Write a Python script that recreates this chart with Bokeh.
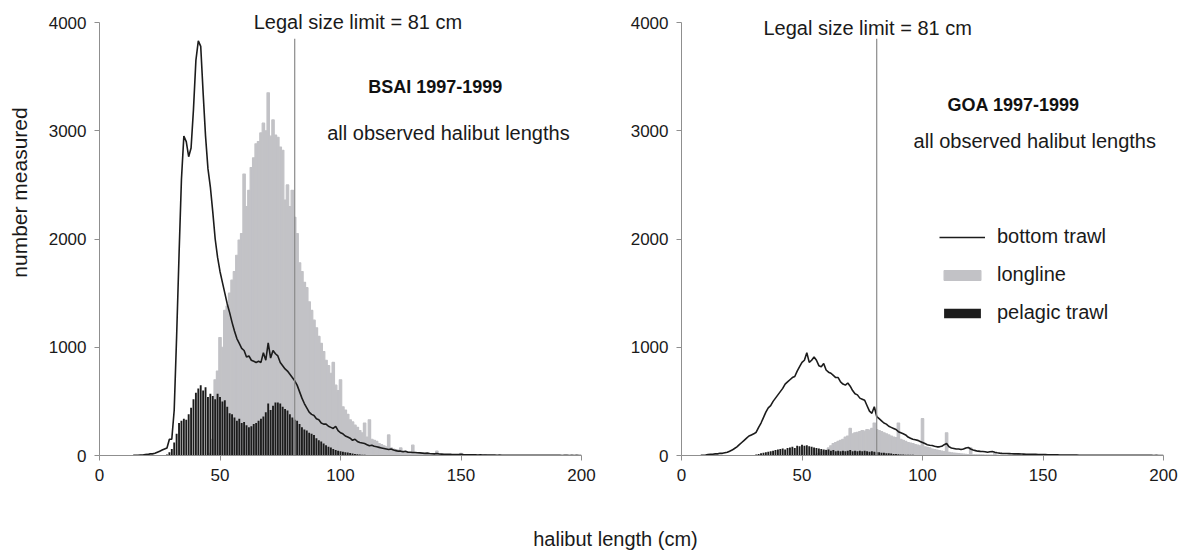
import math
from bokeh.plotting import figure
from bokeh.models import Label, Legend, LegendItem, Range1d
from bokeh.layouts import row, column
from bokeh.embed import file_html
from bokeh.resources import INLINE

# ---------------- data (counts per 1-cm length class) ----------------
LEGAL_LIMIT = 81
LEGAL_LINE_TOP = 3850

bsai_bottom_start = 14
bsai_bottom = [
    1,
    2, 3, 5, 5, 8, 10, 15, 15, 20, 30, 40, 50, 60, 70, 150,
    150, 420, 1100, 1850, 2550, 2950, 2900, 2760, 2840, 3200,
    3650, 3830, 3780, 3350, 2950, 2650, 2480, 2250, 2000, 1830,
    1700, 1600, 1500, 1400, 1320, 1230, 1150, 1080, 1035, 990,
    970, 910, 920, 880, 870, 860, 870, 860, 950, 880,
    1040, 900, 970, 940, 920, 860, 830, 800, 780, 750,
    720, 690, 650, 590, 530, 480, 440, 400, 380, 370,
    340, 330, 300, 290, 290, 270, 260, 250, 270, 230,
    210, 200, 180, 170, 160, 140, 150, 130, 120, 115,
    110, 100, 90, 95, 85, 80, 75, 70, 65, 60,
    55, 60, 50, 45, 40, 40, 35, 40, 30, 30,
    28, 28, 25, 24, 22, 20, 22, 18, 16, 15,
    18, 14, 13, 12, 11, 12, 10, 9, 9, 8,
    10, 8, 7, 7, 6, 7, 6, 5, 6, 5,
    5, 4, 5, 4, 4, 3, 4, 3, 3, 3,
    3, 2, 3, 2, 2, 2, 3, 2, 2, 1,
    2, 1, 2, 1, 1, 1, 2, 1, 1, 1,
    1, 1, 0, 1, 1, 0, 1, 0, 1, 0, 0,
]

bsai_longline_start = 46
bsai_longline = [
    20, 150, 700, 780,
    1090, 1000, 1340, 1380, 1500, 1620, 1700, 1850, 1990, 2050,
    2600, 2300, 2450, 2660, 2750, 2880, 2900, 2980, 3070, 3000,
    3350, 2950, 3100, 2960, 2940, 2850, 2820, 2360, 2500, 2300,
    2450, 2200, 2050, 1780, 1700, 1600, 1550, 1420, 1340, 1250,
    1180, 1100, 1035, 960, 880, 830, 760, 860, 650, 600,
    700, 450, 420, 380, 330, 310, 280, 260, 230, 210,
    300, 170, 330, 150, 140, 130, 110, 100, 90, 80,
    190, 70, 60, 55, 50, 70, 40, 35, 30, 25,
    95, 20, 18, 15, 14, 12, 10, 10, 8, 8,
    40, 6, 5, 5, 4, 4, 3, 3, 3, 2,
    20, 2, 2, 1, 1, 2, 1, 1, 1, 1,
    8,
]

bsai_pelagic_start = 28
bsai_pelagic = [
    10, 30,
    60, 120, 200, 300, 320, 340, 330, 380, 440, 520,
    580, 620, 650, 600, 630, 540, 570, 550, 520, 570,
    540, 500, 510, 450, 390, 380, 350, 320, 340, 300,
    310, 280, 260, 270, 290, 300, 320, 340, 360, 400,
    480, 420, 460, 490, 490, 480, 450, 430, 415, 380,
    350, 330, 320, 290, 260, 240, 230, 210, 200, 190,
    160, 140, 130, 110, 95, 80, 74, 60, 50, 45,
    40, 35, 30, 28, 22, 18, 15, 12, 10, 8,
    6, 5, 4, 3, 3, 2, 2, 1, 1, 1,
]

goa_bottom_start = 8
goa_bottom = [
    2, 3,
    5, 8, 10, 12, 15, 15, 20, 20, 25, 30,
    40, 50, 65, 80, 100, 120, 140, 160, 180, 190,
    200, 215, 260, 300, 350, 400, 440, 460, 500, 530,
    560, 590, 620, 660, 680, 700, 720, 730, 780, 820,
    860, 880, 950, 860, 880, 910, 880, 830, 820, 850,
    790, 770, 760, 740, 720, 720, 680, 660, 650, 670,
    640, 600, 570, 560, 530, 520, 510, 460, 410, 390,
    450, 360, 340, 320, 300, 290, 270, 260, 250, 240,
    220, 210, 200, 190, 170, 160, 150, 145, 140, 130,
    120, 110, 100, 95, 92, 85, 80, 80, 85, 100,
    110, 80, 70, 65, 60, 60, 55, 60, 70, 74,
    60, 50, 45, 40, 38, 37, 35, 30, 35, 37,
    30, 25, 22, 20, 19, 18, 17, 16, 15, 15,
    15, 14, 13, 12, 12, 11, 10, 10, 9, 9,
    8, 8, 7, 7, 6, 6, 6, 5, 5, 5,
    5, 4, 4, 4, 4, 3, 3, 3, 3, 3,
    3, 2, 2, 2, 2, 2, 2, 2, 2, 2,
    2, 1, 1, 1, 1, 1, 1, 1, 1, 1,
    1, 1, 1, 1, 1, 1, 0, 1, 0, 0, 0,
]

goa_longline_start = 56
goa_longline = [
    10, 20, 30, 40,
    50, 70, 90, 110, 120, 130, 140, 150, 170, 180,
    250, 200, 210, 215, 220, 230, 225, 240, 235, 250,
    300, 240, 230, 220, 210, 200, 190, 180, 170, 165,
    300, 150, 140, 130, 120, 115, 110, 100, 95, 90,
    340, 80, 75, 70, 60, 55, 50, 45, 40, 35,
    210, 30, 25, 22, 20, 18, 15, 12, 10, 8,
    70, 6, 6, 5, 5, 5, 4, 4, 3, 3,
    20, 3, 2, 2, 2, 2, 1, 1, 1, 1,
    10,
]

goa_pelagic_start = 30
goa_pelagic = [
    5, 10, 15, 20, 25, 30, 35, 40, 45, 50,
    55, 60, 65, 55, 70, 75, 80, 70, 90, 85,
    100, 90, 95, 85, 80, 75, 70, 65, 60, 55,
    50, 55, 45, 50, 40, 45, 40, 45, 40, 45,
    50, 40, 45, 40, 45, 40, 45, 40, 35, 40,
    35, 30, 30, 25, 25, 20, 20, 18, 15, 15,
    12, 10, 10, 8, 8, 6, 6, 5, 5, 4,
    3, 2, 2, 1, 1,
]

x_ticks = [0, 50, 100, 150, 200]
y_ticks = [0, 1000, 2000, 3000, 4000]

FONT = "Liberation Sans"
GRAY = "#c2c2c6"
DARK = "#1c1c1c"
AXIS = "#8f8f8f"
TXT = "#1a1a1a"

Y_TOP = 4000 * 455 / 433  # so that 4000 sits 22 px below the top of the frame


def lengths(start, vals):
    return list(range(start, start + len(vals)))


def make_panel(width, border_left, border_right, bottom, longline, pelagic,
               title, title_pos, sub_pos, legal_pos):
    p = figure(width=width, height=515, output_backend="svg", toolbar_location=None,
               x_range=Range1d(0, 200), y_range=Range1d(0, Y_TOP),
               min_border_left=border_left, min_border_right=border_right,
               min_border_top=0, min_border_bottom=60)
    p.outline_line_color = None
    p.grid.visible = False
    p.background_fill_color = "white"
    p.border_fill_color = "white"

    r_long = p.vbar(x=lengths(*longline), top=longline[1], width=1.0, bottom=0,
                    fill_color=GRAY, line_color=GRAY, line_width=1.2)
    r_pel = p.vbar(x=lengths(*pelagic), top=pelagic[1], width=0.78, bottom=0,
                   fill_color=DARK, line_color=None)
    r_bot = p.line(x=lengths(*bottom), y=bottom[1], line_color=DARK, line_width=1.6)
    p.segment(x0=[LEGAL_LIMIT], y0=[0], x1=[LEGAL_LIMIT], y1=[LEGAL_LINE_TOP],
              line_color="#8a8a8a", line_width=1.2)

    for ax in (p.xaxis[0], p.yaxis[0]):
        ax.axis_line_color = AXIS
        ax.major_tick_line_color = AXIS
        ax.minor_tick_line_color = None
        ax.major_tick_out = 5
        ax.major_tick_in = 0
        ax.major_label_text_font = FONT
        ax.major_label_text_font_size = "17px"
        ax.major_label_text_color = TXT
        ax.major_label_standoff = 8
    p.xaxis.ticker = x_ticks
    p.yaxis.ticker = y_ticks
    p.yaxis.bounds = (0, 4000)

    p.add_layout(Label(x=legal_pos[0], y=legal_pos[1], text="Legal size limit = 81 cm",
                       text_font=FONT, text_font_size="20px", text_color=TXT,
                       text_baseline="alphabetic"))
    p.add_layout(Label(x=title_pos[0], y=title_pos[1], text=title,
                       text_font=FONT, text_font_size="18px", text_font_style="bold",
                       text_color="#111111", text_baseline="alphabetic"))
    p.add_layout(Label(x=sub_pos[0], y=sub_pos[1], text="all observed halibut lengths",
                       text_font=FONT, text_font_size="20px", text_color=TXT,
                       text_baseline="alphabetic"))
    return p, r_bot, r_long, r_pel


# y-axis title strip
p0 = figure(width=35, height=515, output_backend="svg", toolbar_location=None,
            x_range=Range1d(0, 1), y_range=Range1d(0, 1),
            x_axis_type=None, y_axis_type=None, min_border=0)
p0.outline_line_color = None
p0.grid.visible = False
p0.add_layout(Label(x=19, y=515 - 252, x_units="screen", y_units="screen", angle=math.pi / 2,
                    text="number measured", text_font=FONT, text_font_size="21px",
                    text_color=TXT, text_align="center", text_baseline="middle"))

p1, _, _, _ = make_panel(585, 64, 39,
                         (bsai_bottom_start, bsai_bottom),
                         (bsai_longline_start, bsai_longline),
                         (bsai_pelagic_start, bsai_pelagic),
                         "BSAI 1997-1999", (111.5, 3405), (94.5, 2975), (64, 4005))

p2, rb, rl, rp = make_panel(565, 61, 22,
                            (goa_bottom_start, goa_bottom),
                            (goa_longline_start, goa_longline),
                            (goa_pelagic_start, goa_pelagic),
                            "GOA 1997-1999", (110.4, 3235), (96.3, 2905), (34, 3945))

legend = Legend(items=[LegendItem(label="bottom trawl", renderers=[rb]),
                       LegendItem(label="longline", renderers=[rl]),
                       LegendItem(label="pelagic trawl", renderers=[rp])],
                location=(258, 131), orientation="vertical",
                label_text_font=FONT, label_text_font_size="20px", label_text_color=TXT,
                glyph_width=46, glyph_height=12, label_standoff=12, label_height=20,
                spacing=15, padding=0, margin=0,
                border_line_color=None, background_fill_alpha=0)
p2.add_layout(legend, "center")

p3 = figure(width=1185, height=43, output_backend="svg", toolbar_location=None,
            x_range=Range1d(0, 1), y_range=Range1d(0, 1),
            x_axis_type=None, y_axis_type=None, min_border=0)
p3.outline_line_color = None
p3.grid.visible = False
p3.add_layout(Label(x=615, y=20, x_units="screen", y_units="screen",
                    text="halibut length (cm)", text_font=FONT, text_font_size="20px",
                    text_color=TXT, text_align="center", text_baseline="middle"))

layout = column(row(p0, p1, p2, spacing=0), p3, spacing=0)

with open("out.html", "w") as f:
    f.write(file_html(layout, INLINE))
